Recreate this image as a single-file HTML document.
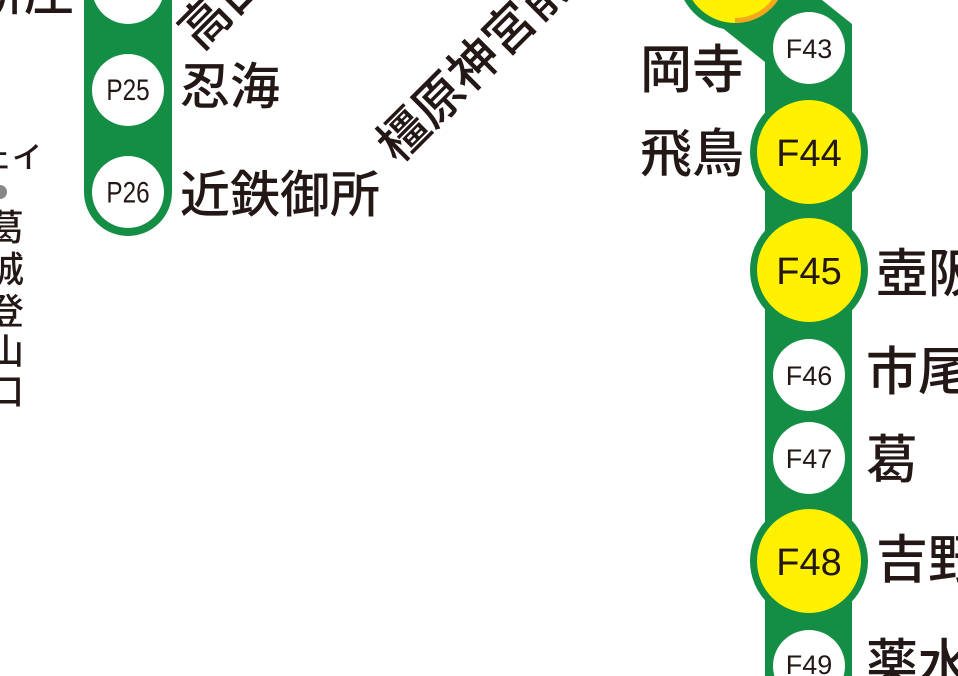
<!DOCTYPE html>
<html><head><meta charset="utf-8"><style>
html,body{margin:0;padding:0;background:#fff;}
svg{display:block;}
text{font-family:"Liberation Sans","Noto Sans CJK JP",sans-serif;fill:#231815;}
.jp{font-family:"Noto Sans CJK JP",sans-serif;font-weight:500;}
</style></head><body>
<svg width="958" height="676" viewBox="0 0 958 676" xmlns="http://www.w3.org/2000/svg">
<path d="M84 0 H172 V192 A44 44 0 0 1 84 192 Z" fill="#138e44"/>
<circle cx="128" cy="-12" r="36" fill="#fff"/>
<circle cx="128" cy="90" r="36" fill="#fff"/>
<circle cx="128" cy="192" r="36" fill="#fff"/>
<text x="128" y="100" font-size="27" text-anchor="middle" transform="translate(128 0) scale(0.9 1.1) translate(-128 -9)">P25</text>
<text x="128" y="202" font-size="27" text-anchor="middle" transform="translate(128 0) scale(0.9 1.1) translate(-128 -18)">P26</text>
<text class="jp" x="180" y="104" font-size="50">忍海</text>
<text class="jp" x="180" y="212" font-size="50">近鉄御所</text>
<text class="jp" x="-26" y="10" font-size="50">新庄</text>
<text class="jp" x="0" y="0" font-size="50" transform="translate(200,52) rotate(-45)">高田</text>
<text class="jp" x="0" y="0" font-size="50" transform="translate(398,165) rotate(-45)">橿原神宮前</text>
<text class="jp" x="-18" y="168" font-size="30" font-weight="300">ェイ</text>
<circle cx="0" cy="192" r="7" fill="#888"/>
<text class="jp" font-size="36" font-weight="300" x="-12" y="240">葛</text>
<text class="jp" font-size="36" font-weight="300" x="-12" y="282">城</text>
<text class="jp" font-size="36" font-weight="300" x="-12" y="324">登</text>
<text class="jp" font-size="36" font-weight="300" x="-12" y="364">山</text>
<text class="jp" font-size="36" font-weight="300" x="-12" y="404">口</text>
<path d="M690 0 H822 L852 24 V676 H765 V62 L700 10 Z" fill="#138e44"/>
<circle cx="735" cy="-28" r="58" fill="#138e44"/>
<circle cx="735" cy="-28" r="51" fill="#fff100"/>
<path d="M735 23 A51 51 0 0 0 780 -3 L775 -5 A46 46 0 0 1 735 18 Z" fill="#f5a81c"/>
<circle cx="809" cy="48" r="36" fill="#fff"/>
<text x="809" y="58" font-size="27" text-anchor="middle">F43</text>
<circle cx="809" cy="152" r="59" fill="#138e44"/>
<circle cx="809" cy="152" r="52" fill="#fff100"/>
<text x="809" y="166" font-size="38" text-anchor="middle">F44</text>
<circle cx="809" cy="270" r="59" fill="#138e44"/>
<circle cx="809" cy="270" r="52" fill="#fff100"/>
<text x="809" y="284" font-size="38" text-anchor="middle">F45</text>
<circle cx="809" cy="375" r="36" fill="#fff"/>
<text x="809" y="385" font-size="27" text-anchor="middle">F46</text>
<circle cx="809" cy="458" r="36" fill="#fff"/>
<text x="809" y="468" font-size="27" text-anchor="middle">F47</text>
<circle cx="809" cy="561" r="59" fill="#138e44"/>
<circle cx="809" cy="561" r="52" fill="#fff100"/>
<text x="809" y="575" font-size="38" text-anchor="middle">F48</text>
<circle cx="809" cy="666" r="36" fill="#fff"/>
<text x="809" y="674" font-size="27" text-anchor="middle">F49</text>
<text class="jp" x="640" y="88" font-size="52">岡寺</text>
<text class="jp" x="640" y="172" font-size="52">飛鳥</text>
<text class="jp" x="876" y="292" font-size="52">壺阪</text>
<text class="jp" x="866" y="390" font-size="52">市尾</text>
<text class="jp" x="866" y="478" font-size="52">葛</text>
<text class="jp" x="876" y="578" font-size="52">吉野</text>
<text class="jp" x="866" y="682" font-size="52">薬水</text>
</svg>
</body></html>
